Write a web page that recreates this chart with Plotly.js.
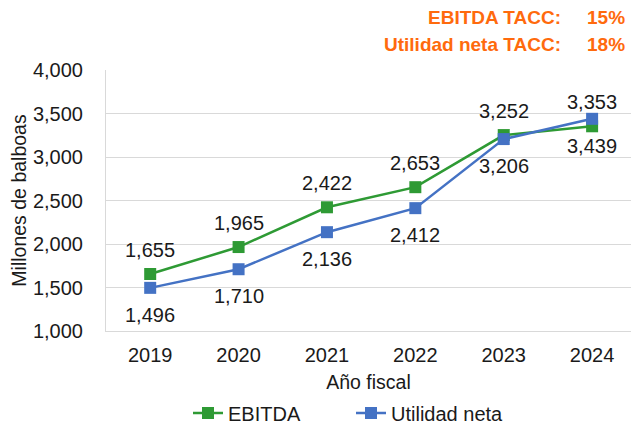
<!DOCTYPE html>
<html><head><meta charset="utf-8">
<script src="https://cdn.plot.ly/plotly-3.0.1.min.js"></script>
<style>html,body{margin:0;padding:0;background:#fff}</style>
</head><body>
<div id="chart" style="width:631px;height:428px"></div>
<script>
const years = ['2019','2020','2021','2022','2023','2024'];
const ebitda = [1655, 1965, 2422, 2653, 3252, 3353];
const utilidad = [1496, 1710, 2136, 2412, 3206, 3439];
const ebitdaLabels = ['1,655','1,965','2,422','2,653','3,252','3,353'];
const utilidadLabels = ['1,496','1,710','2,136','2,412','3,206','3,439'];
const tacc = [['EBITDA TACC:', '15%'], ['Utilidad neta TACC:', '18%']];

const FONT = 'Liberation Sans, Arial, Helvetica, sans-serif';
const GREEN = '#2E9A34', BLUE = '#4472C4', ORANGE = '#FF6A0D', TXT = '#1a1a1a';

const traces = [
  {x: years, y: ebitda, name: 'EBITDA', type: 'scatter', mode: 'lines+markers',
   line: {color: GREEN, width: 2.5}, marker: {symbol: 'square', size: 12, color: GREEN}},
  {x: years, y: utilidad, name: 'Utilidad neta', type: 'scatter', mode: 'lines+markers',
   line: {color: BLUE, width: 2.5}, marker: {symbol: 'square', size: 12, color: BLUE}}
];

const annotations = [];
years.forEach((yr, i) => {
  // category axis: annotations use the category index
  annotations.push({x: i, y: ebitda[i], text: ebitdaLabels[i], showarrow: false,
    yshift: 24, font: {family: FONT, size: 20, color: TXT}});
  annotations.push({x: i, y: utilidad[i], text: utilidadLabels[i], showarrow: false,
    yshift: -27, font: {family: FONT, size: 20, color: TXT}});
});
tacc.forEach((row, i) => {
  const yy = i === 0 ? 17 : 44;
  annotations.push({xref: 'paper', yref: 'paper', x: (563 - 106) / 525, y: (331 - yy) / 261,
    xanchor: 'right', yanchor: 'middle', text: '<b>' + row[0] + '</b>', showarrow: false,
    font: {family: FONT, size: 19, color: ORANGE}});
  annotations.push({xref: 'paper', yref: 'paper', x: (627 - 106) / 525, y: (331 - yy) / 261,
    xanchor: 'right', yanchor: 'middle', text: '<b>' + row[1] + '</b>', showarrow: false,
    font: {family: FONT, size: 19, color: ORANGE}});
});

const layout = {
  width: 631, height: 428,
  margin: {l: 106, r: 0, t: 70, b: 97},
  paper_bgcolor: '#fff', plot_bgcolor: '#fff',
  font: {family: FONT, size: 19, color: TXT},
  showlegend: true,
  legend: {orientation: 'h', x: (188 - 106) / 525, xanchor: 'left',
    yref: 'container', y: (428 - 413) / 428, yanchor: 'middle',
    font: {family: FONT, size: 20, color: TXT}, itemwidth: 30, entrywidth: 118, tracegroupgap: 0},
  xaxis: {type: 'category', range: [-0.5, 5.44], showgrid: false, showline: true,
    linecolor: '#d9d9d9', linewidth: 1, ticks: '', ticklabelstandoff: 6, fixedrange: true,
    tickfont: {family: FONT, size: 20, color: TXT},
    title: {text: 'Año fiscal', font: {family: FONT, size: 19.5, color: TXT}, standoff: 10}},
  yaxis: {range: [1000, 4000], dtick: 500, tickformat: ',d', showgrid: true,
    gridcolor: '#d9d9d9', gridwidth: 1, showline: true, linecolor: '#d9d9d9', linewidth: 1,
    zeroline: false, ticks: '', ticklabelstandoff: 18,
    tickfont: {family: FONT, size: 20, color: TXT},
    title: {text: 'Millones de balboas', font: {family: FONT, size: 19.5, color: TXT}, standoff: 1}},
  annotations: annotations
};

Plotly.newPlot('chart', traces, layout, {displayModeBar: false, staticPlot: true});
</script>
</body></html>
